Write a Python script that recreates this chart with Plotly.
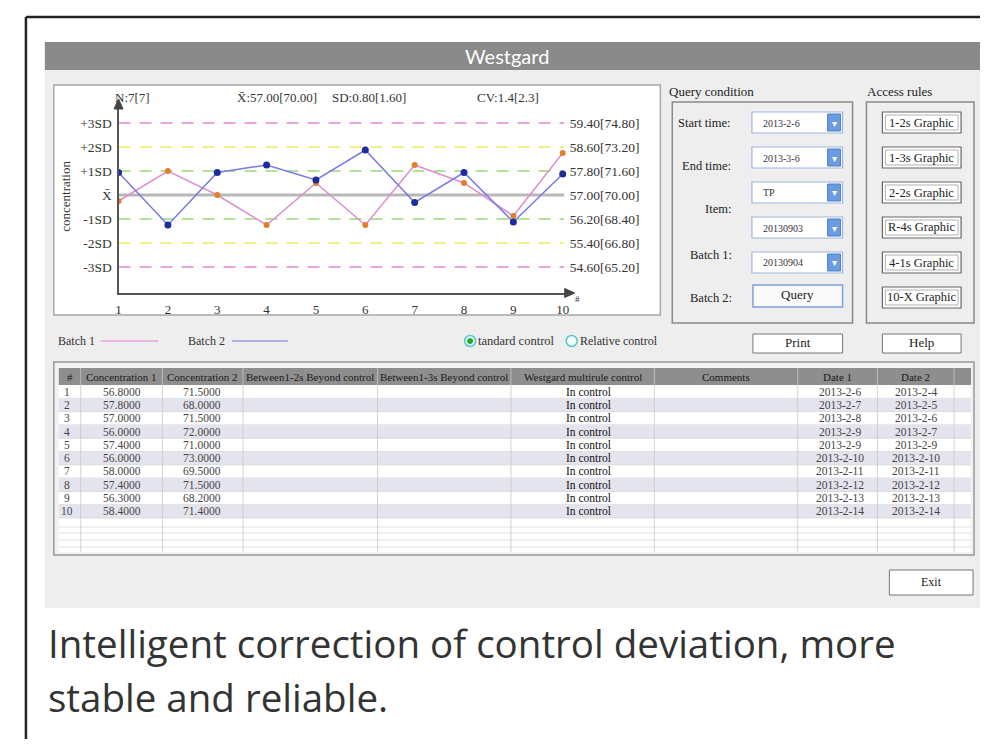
import plotly.graph_objects as go

W, H = 988, 747          # reference picture size
OFF = 8                  # default page body margin
FW, FH = W - 2 * OFF, H - 2 * OFF

# ---------------- data ----------------
points = list(range(1, 11))
batch1 = [56.8, 57.8, 57.0, 56.0, 57.4, 56.0, 58.0, 57.4, 56.3, 58.4]
batch2 = [71.5, 68.0, 71.5, 72.0, 71.0, 73.0, 69.5, 71.5, 68.2, 71.4]
date1 = ["2013-2-6", "2013-2-7", "2013-2-8", "2013-2-9", "2013-2-9", "2013-2-10",
         "2013-2-11", "2013-2-12", "2013-2-13", "2013-2-14"]
date2 = ["2013-2-4", "2013-2-5", "2013-2-6", "2013-2-7", "2013-2-9", "2013-2-10",
         "2013-2-11", "2013-2-12", "2013-2-13", "2013-2-14"]
status = ["In control"] * 10
mean1, sd1, n1 = 57.00, 0.80, 7
mean2, sd2, n2 = 70.00, 1.60, 7
sd_levels = [3, 2, 1, 0, -1, -2, -3]
sd_labels = ["+3SD", "+2SD", "+1SD", "X\u0304", "-1SD", "-2SD", "-3SD"]
table_headers = ["#", "Concentration 1", "Concentration 2", "Between1-2s Beyond control",
                 "Between1-3s Beyond control", "Westgard multirule control", "Comments",
                 "Date 1", "Date 2", ""]
query_labels = ["Start time:", "End time:", "Item:", "Batch 1:", "Batch 2:"]
query_values = ["2013-2-6", "2013-3-6", "TP", "20130903", "20130904"]
rule_buttons = ["1-2s Graphic", "1-3s Graphic", "2-2s Graphic", "R-4s Graphic",
                "4-1s Graphic", "10-X Graphic"]

SERIF = "Liberation Serif"
SANS = "Open Sans"


def px(x):
    return (x - OFF) / FW


def py(y):
    return 1 - (y - OFF) / FH


shapes, ann = [], []


def rect(x0, y0, x1, y1, fill, line=None, lw=1, layer="below"):
    shapes.append(dict(type="rect", xref="paper", yref="paper",
                       x0=px(x0), x1=px(x1), y0=py(y1), y1=py(y0),
                       fillcolor=fill, layer=layer,
                       line=dict(color=line if line else "rgba(0,0,0,0)", width=lw if line else 0)))


def seg(x0, y0, x1, y1, color, lw=1, dash="solid", layer="below"):
    shapes.append(dict(type="line", xref="paper", yref="paper",
                       x0=px(x0), x1=px(x1), y0=py(y0), y1=py(y1), layer=layer,
                       line=dict(color=color, width=lw, dash=dash)))


def txt(x, y, s, size=10, color="#222", xanchor="center", family=SERIF, angle=0):
    ann.append(dict(xref="paper", yref="paper", x=px(x), y=py(y), text=s, showarrow=False,
                    xanchor=xanchor, yanchor="middle", textangle=angle, borderpad=0,
                    font=dict(family=family, size=size, color=color)))


def circle(cx, cy, r, fill, line, lw=1):
    shapes.append(dict(type="circle", xref="paper", yref="paper",
                       x0=px(cx - r), x1=px(cx + r), y0=py(cy + r), y1=py(cy - r),
                       fillcolor=fill, line=dict(color=line, width=lw), layer="above"))


# ---------------- outer frame & window ----------------
seg(23, 17, 23, 760, "#222", 2.5, layer="above")
seg(23, 17, 1000, 17, "#222", 2.5, layer="above")
rect(42, 42, 990, 608, "#eeeeee")
rect(42, 42, 990, 70, "#8a8a8a")
txt(506, 56, "Westgard", 20, "#ffffff", family="Lato")

# chart box
rect(51, 85, 660, 315, "#ffffff", "#a8a8a8", 1.5)

# chart header texts
cv1 = sd1 / mean1 * 100
cv2 = sd2 / mean2 * 100
txt(111, 97, f"N:{n1}[{n2}]", 13, "#333", "left")
txt(234, 97, f"X\u0304:{mean1:.2f}[{mean2:.2f}]", 13, "#333", "left")
txt(329, 97, f"SD:{sd1:.2f}[{sd2:.2f}]", 13, "#333", "left")
txt(475, 97, f"CV:{cv1:.1f}[{cv2:.1f}]", 13, "#333", "left")
txt(62, 196, "concentration", 13, "#333", angle=-90)
txt(577, 299, "#", 9, "#333")

# axis arrows
shapes.append(dict(type="path", xref="paper", yref="paper", layer="above",
                   path=f"M {px(116)} {py(99)} L {px(111.5)} {py(109)} L {px(120.5)} {py(109)} Z",
                   fillcolor="#444", line=dict(color="#444", width=1)))
shapes.append(dict(type="path", xref="paper", yref="paper", layer="above",
                   path=f"M {px(574)} {py(293)} L {px(564)} {py(288.5)} L {px(564)} {py(297.5)} Z",
                   fillcolor="#444", line=dict(color="#444", width=1)))

# control lines (batch-1 units on y axis)
lvl_colors = {3: "#e7a6df", 2: "#f2f08a", 1: "#b4e29a"}
for k in sd_levels:
    yv = mean1 + k * sd1
    if k == 0:
        shapes.append(dict(type="line", xref="x", yref="y", x0=1, x1=10.03, y0=yv, y1=yv,
                           layer="below", line=dict(color="#b8b8b8", width=3)))
    else:
        shapes.append(dict(type="line", xref="x", yref="y", x0=1, x1=10.03, y0=yv, y1=yv,
                           layer="below",
                           line=dict(color=lvl_colors[abs(k)], width=2.2, dash="12px,9px")))

# ---------------- legend row & radio buttons ----------------
txt(54, 341, "Batch 1", 12, "#333", "left")
seg(98, 341, 156, 341, "#e3a3db", 1.5)
txt(185, 341, "Batch 2", 12, "#333", "left")
seg(230, 341, 286, 341, "#9a9ae0", 1.5)
circle(469, 341, 5.5, "#e9fbfb", "#55c8c8", 1.5)
circle(469, 341, 2.5, "#22aa22", "#22aa22", 1)
txt(476, 341, "tandard control", 12.5, "#333", "left")
circle(571, 341, 5.5, "#f2ffff", "#55c8c8", 1.5)
txt(578, 341, "Relative control", 12, "#333", "left")

# ---------------- query condition ----------------
txt(668, 92, "Query condition", 13, "#222", "left")
rect(672, 102, 853, 323, "rgba(0,0,0,0)", "#8a8a8a", 1.5)
label_pos = [(677, 123), (681, 166), (704, 209), (689, 255), (689, 298)]
for (lx, ly), lab in zip(label_pos, query_labels):
    txt(lx, ly, lab, 12.5, "#222", "left")
combo_y = [112, 147, 182, 217, 252]
for cy, val in zip(combo_y, query_values):
    rect(752, cy, 843, cy + 21, "#ffffff", "#9fb6dc", 1.2)
    rect(828, cy + 2, 841, cy + 19, "#6b9be0", "#4a7cc8", 1)
    txt(834.5, cy + 11, "\u25be", 10, "#ffffff", family="DejaVu Sans")
    txt(762, cy + 11, val, 10, "#333", "left")
rect(753, 285, 843, 307, "#fafafa", "#7ea2da", 1.5)
txt(798, 295, "Query", 13, "#222")
rect(753, 334, 843, 353, "#ffffff", "#777777", 1)
txt(798, 343, "Print", 13, "#222")

# ---------------- access rules ----------------
txt(867, 92, "Access rules", 13, "#222", "left")
rect(867, 102, 975, 323, "rgba(0,0,0,0)", "#8a8a8a", 1.5)
for i, b in enumerate(rule_buttons):
    y0 = 112 + 35 * i
    rect(883, y0, 962, y0 + 21, "#ffffff", "#666666", 1.2)
    rect(886, y0 + 3, 959, y0 + 18, "rgba(0,0,0,0)", "#a0a0a0", 0.8)
    txt(922.5, y0 + 10.5, b, 12.5, "#222")
rect(883, 334, 962, 353, "#ffffff", "#777777", 1)
txt(922.5, 343, "Help", 13, "#222")

# ---------------- table ----------------
rect(51, 362, 975, 555, "#f2f2f2", "#999999", 1.5)
col_edges = [56, 78, 160, 241, 376, 510, 654, 798, 878, 955, 972]
rect(56, 368, 972, 552, "#ffffff")
rect(56, 368, 972, 385, "#8e8e8e")
for i, h in enumerate(table_headers):
    if h:
        txt((col_edges[i] + col_edges[i + 1]) / 2, 376.5, h, 11, "#1a1a1a")
row_h = 13.3
for r in range(len(batch1)):
    y0 = 385 + r * row_h
    if r % 2 == 1:
        rect(56, y0, 972, y0 + row_h, "#e4e4ee")
    seg(56, y0 + row_h, 972, y0 + row_h, "#d4d4d4", 0.8)
    yc = y0 + row_h / 2
    txt(64, yc, str(points[r]), 11.5, "#444", "center")
    txt(119, yc, f"{batch1[r]:.4f}", 11.5, "#444")
    txt(200, yc, f"{batch2[r]:.4f}", 11.5, "#444")
    txt(588, yc, status[r], 11.5, "#111")
    txt(840, yc, date1[r], 11.5, "#444")
    txt(917, yc, date2[r], 11.5, "#444")
for yl in [527, 533, 540, 547]:
    seg(56, yl, 972, yl, "#d8d8d8", 0.8)
for xe in col_edges[1:-1]:
    seg(xe, 368, xe, 552, "#c8c8c8", 0.8)

# exit button
rect(890, 570, 974, 595, "#ffffff", "#777777", 1)
txt(932, 582, "Exit", 12, "#222")

# ---------------- caption ----------------
txt(44, 643, "Intelligent correction of control deviation, more", 38.5, "#333", "left", family=SANS)
txt(44, 697, "stable and reliable.", 38.5, "#333", "left", family=SANS)

# ---------------- chart traces ----------------
fig = go.Figure()
fig.add_trace(go.Scatter(x=points, y=batch1, mode="lines+markers", name="Batch 1",
                         line=dict(color="#dc8fd2", width=1.5),
                         marker=dict(color="#e0802a", size=6), yaxis="y"))
fig.add_trace(go.Scatter(x=points, y=batch2, mode="lines+markers", name="Batch 2",
                         line=dict(color="#7a7ae0", width=1.5),
                         marker=dict(color="#1f2c9c", size=7), yaxis="y2"))

# axis geometry
x_left, x_right = 116, 568
y_top, y_bot = 104, 293
mean_px, sd_px = 195, 24
ppu_x = (562 - 116) / 9
xr = [1, 10 + (x_right - 562) / ppu_x]
z_top = (mean_px - y_top) / sd_px
z_bot = (mean_px - y_bot) / sd_px
yr1 = [mean1 + z_bot * sd1, mean1 + z_top * sd1]
yr2 = [mean2 + z_bot * sd2, mean2 + z_top * sd2]

left_vals = [mean1 + k * sd1 for k in sd_levels]
right_vals = [mean2 + k * sd2 for k in sd_levels]
right_text = [f"{mean1 + k * sd1:.2f}[{mean2 + k * sd2:.2f}]" for k in sd_levels]

fig.update_layout(
    width=FW, height=FH, autosize=False,
    margin=dict(l=0, r=0, t=0, b=0),
    paper_bgcolor="#ffffff", plot_bgcolor="rgba(0,0,0,0)",
    showlegend=False,
    xaxis=dict(domain=[px(x_left), px(x_right)], range=xr, tickvals=points,
               ticktext=[str(p) for p in points], showgrid=False, zeroline=False,
               showline=True, linecolor="#555", linewidth=2, ticks="",
               ticklabelstandoff=3,
               tickfont=dict(family=SERIF, size=13, color="#333"), fixedrange=True),
    yaxis=dict(domain=[py(y_bot), py(y_top)], range=yr1, tickvals=left_vals,
               ticktext=sd_labels, showgrid=False, zeroline=False,
               showline=True, linecolor="#555", linewidth=2, ticks="",
               ticklabelstandoff=2,
               tickfont=dict(family=SERIF, size=13.5, color="#333"), fixedrange=True),
    yaxis2=dict(overlaying="y", side="right", anchor="x", range=yr2, tickvals=right_vals,
                ticktext=right_text, showgrid=False, zeroline=False, showline=False,
                ticks="", ticklabelstandoff=0,
                tickfont=dict(family=SERIF, size=13.5, color="#333"),
                fixedrange=True),
    shapes=shapes, annotations=ann,
)

fig.write_html("out.html")
